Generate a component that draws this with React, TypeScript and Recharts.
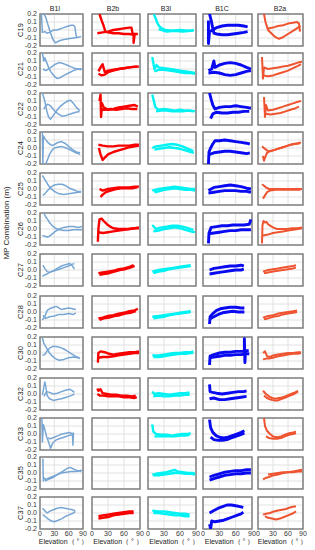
import React from 'react';
import { LineChart, Line, XAxis, YAxis, CartesianGrid, ReferenceArea } from 'recharts';

const rows = ['C19', 'C21', 'C22', 'C24', 'C25', 'C26', 'C27', 'C28', 'C30', 'C32', 'C33', 'C35', 'C37'];
const signals = ['B1I', 'B2b', 'B3I', 'B1C', 'B2a'];
const colors = ['#78a6d4', '#f80000', '#00f2f2', '#0a0af0', '#ef5430'];
const strokeWidths = [1.5, 2.4, 2.4, 2.9, 2.0];
const xTicks = [0, 30, 60, 90];
const yTicks = [-0.2, -0.1, 0, 0.1, 0.2];

// Each cell: two passes, given as flat [elevation(deg), value(cm)] pairs.
const b1i: number[][][] = [
  [[3, 20, 5, -3, 10, -2, 15, -4, 20, -3, 25, -1, 30, 0, 35, 0, 40, 1, 45, 2, 50, 3, 55, 4, 60, 5, 65, 6, 70, 6, 73, 4, 75, -5, 77, -9],
   [8, 20, 12, 16, 16, 8, 20, 0, 24, -7, 28, -13, 32, -16, 36, -15, 42, -13, 50, -12, 60, -11, 70, -10, 80, -9, 86, -8]],
  [[5, 20, 8, 10, 10, 14, 14, 8, 18, 2, 22, -3, 26, -6, 30, -9, 36, -12, 42, -11, 50, -8, 60, -5, 70, -2, 80, 0, 88, 0],
   [6, 0, 12, -2, 18, 0, 25, 3, 32, 6, 40, 8, 48, 7, 56, 5, 64, 3, 72, 1, 80, 0, 86, -1]],
  [[5, 20, 10, 10, 14, -2, 18, -10, 22, -13, 28, -8, 35, -2, 42, 3, 50, 7, 58, 10, 64, 11, 70, 7, 76, 2, 83, -2],
   [8, 0, 12, 4, 16, 6, 22, 4, 30, -2, 38, -6, 46, -9, 55, -8, 65, -6, 75, -4, 83, -3]],
  [[5, 20, 6, -20, 7, 15, 10, 12, 15, 8, 20, 5, 26, 3, 32, 5, 38, 7, 45, 8, 52, 6, 60, 2, 68, -2, 76, -5, 84, -6],
   [12, -20, 16, -14, 20, -8, 25, -3, 30, 0, 36, 1, 45, 2, 55, 0, 65, -3, 75, -6, 84, -8]],
  [[5, 17, 10, 12, 16, 6, 22, 1, 30, -3, 40, -6, 50, -7, 60, -6, 70, -5, 80, -4, 86, -4],
   [6, -8, 10, -6, 16, -2, 22, 2, 30, 5, 38, 6, 46, 6, 54, 4, 62, 1, 70, -1, 78, -3, 86, -3]],
  [[5, -8, 10, -9, 15, -10, 20, -9, 26, -6, 32, -3, 40, 0, 50, 2, 60, 3, 70, 3, 80, 2, 88, 3],
   [8, 20, 12, 15, 16, 12, 20, 8, 26, 4, 32, 1, 40, -1, 50, -2, 60, -2, 70, -1, 80, -1, 88, -1]],
  [[5, -8, 10, -6, 15, -5, 20, -3, 30, -1, 40, 1, 50, 3, 60, 5, 66, 7, 72, 8],
   [6, 6, 10, 2, 15, -2, 20, -3, 28, -1, 36, 2, 45, 5, 55, 7, 62, 8, 68, 5, 72, 1]],
  [[5, -10, 10, -6, 15, 2, 20, 4, 28, 6, 34, 7, 40, 5, 45, 3, 52, 4, 60, 5, 68, 4, 75, 3],
   [6, -4, 12, -8, 20, -6, 30, -5, 40, -3, 50, -3, 60, -2, 70, -3, 75, -1]],
  [[5, 19, 8, 12, 12, 8, 16, 4, 20, 0, 26, -4, 32, -7, 40, -9, 50, -8, 60, -6, 70, -5, 80, -6, 84, -7],
   [5, -3, 10, -2, 15, 3, 20, 6, 26, 8, 34, 8, 42, 7, 50, 5, 58, 2, 66, -1, 74, -4, 82, -6]],
  [[5, -1, 8, 8, 10, 15, 12, 10, 15, -2, 20, -6, 28, -8, 36, -7, 45, -6, 55, -4, 65, -2, 72, 0],
   [8, -3, 14, 3, 20, 2, 28, 0, 36, 1, 45, 3, 55, 5, 62, 6, 68, 4, 72, 2]],
  [[4, 20, 5, -10, 7, 12, 10, 6, 14, -4, 18, -10, 22, -18, 26, -12, 32, -8, 40, -6, 50, -4, 60, -2, 68, -1],
   [16, -5, 22, -6, 30, -4, 38, -2, 46, 0, 54, 1, 62, 2, 68, 0, 69, -14, 70, 2]],
  [[6, 18, 7, -10, 8, -6, 12, -8, 20, -6, 28, -4, 36, -2, 45, 0, 55, 1, 65, 2, 75, 2, 85, 3, 88, 3],
   [10, -10, 18, -8, 26, -6, 34, -3, 42, 0, 50, 3, 58, 6, 64, 7, 70, 5, 78, 3, 86, 2]],
  [[5, 6, 10, 3, 15, 0, 20, 2, 28, 4, 36, 6, 44, 7, 52, 6, 60, 5, 68, 4, 74, 3],
   [6, -2, 12, -5, 18, -8, 24, -10, 30, -11, 38, -9, 46, -7, 54, -4, 62, -2, 70, 0, 74, 2]],
];

const b2b: number[][][] = [
  [[10, -4, 20, -3, 30, -2, 40, 0, 50, 1, 60, 2, 70, 3, 74, 3, 76, -4, 80, -5],
   [14, 20, 18, 12, 22, 5, 25, -2, 30, -3, 40, -4, 50, -4, 60, -5, 70, -5, 78, -6, 78, -16, 80, -5, 86, -5]],
  [[12, -3, 16, 2, 20, 6, 24, -4, 30, -2, 40, -1, 50, 0, 60, 1, 70, 2, 80, 3, 88, 3],
   [12, -6, 18, -8, 24, -7, 30, -4, 40, -2, 50, 0, 60, 1, 70, 2, 85, 3]],
  [[14, 10, 16, 18, 17, -10, 18, 0, 25, -1, 35, 0, 45, -1, 55, 0, 65, 1, 75, 0, 85, 0],
   [18, 8, 22, 2, 30, -1, 40, 0, 50, 2, 60, 3, 70, 4, 80, 5, 86, 3]],
  [[12, 4, 20, 3, 30, 2, 40, 2, 50, 3, 60, 3, 70, 3, 80, 4, 88, 4],
   [13, 0, 16, -8, 20, -15, 24, -12, 30, -8, 40, -5, 50, -3, 60, -1, 70, 1, 80, 2, 88, 3]],
  [[14, 0, 20, -2, 30, 0, 40, 1, 50, 2, 60, 2, 70, 2, 80, 3, 88, 3],
   [16, -10, 20, -7, 26, -4, 35, -2, 45, 0, 55, 1, 65, 1, 75, 1, 85, 2]],
  [[11, -16, 12, 0, 14, 12, 18, 13, 22, 10, 28, 6, 34, 3, 40, 1, 50, 0, 60, 0, 70, 0, 80, 1, 88, 1],
   [12, -4, 20, -5, 30, -4, 40, -3, 50, -2, 60, -1, 70, 0, 80, 1, 88, 2]],
  [[12, -4, 20, -3, 30, -2, 40, -1, 50, 1, 60, 2, 70, 4, 78, 6],
   [14, -6, 22, -5, 32, -4, 42, -2, 52, 0, 62, 1, 72, 3, 80, 5]],
  [[12, -8, 20, -7, 30, -5, 40, -4, 50, -2, 60, -1, 70, 1, 80, 2, 86, 4],
   [14, -10, 22, -8, 32, -7, 42, -5, 52, -4, 62, -2, 72, -1, 82, 1]],
  [[11, -12, 12, 0, 16, 2, 24, 1, 32, -1, 40, -2, 50, -1, 60, 0, 70, 1, 80, 1, 88, 2],
   [12, -6, 20, -5, 30, -5, 40, -4, 50, -3, 60, -2, 70, -1, 80, 0, 88, 0]],
  [[10, 7, 12, 4, 16, 6, 20, 1, 28, 0, 36, -1, 45, -1, 55, -2, 65, -2, 75, -3, 82, -2],
   [10, 0, 15, -2, 22, -2, 30, -3, 40, -3, 50, -3, 60, -4, 70, -4, 80, -5, 84, -4]],
  [],
  [],
  [[12, -4, 20, -3, 30, -2, 40, -1, 50, 0, 60, 1, 70, 2, 78, 2],
   [12, -7, 20, -6, 30, -5, 40, -3, 50, -2, 60, -1, 70, 0, 78, 0]],
];

const b3i: number[][][] = [
  [[11, 20, 14, 15, 18, 8, 22, 4, 26, 2, 32, 0, 45, -1, 60, 0, 75, -1, 85, -1],
   [20, 1, 35, -2, 50, -1, 65, -2, 80, -1, 86, 0]],
  [[8, 15, 12, 0, 16, 5, 20, 2, 30, 1, 40, 0, 50, -1, 60, -2, 70, -3, 80, -4, 88, -5],
   [12, -3, 20, -1, 30, -1, 40, -2, 50, -3, 60, -4, 70, -5, 80, -5, 88, -6]],
  [[8, 18, 11, 10, 14, 2, 20, -1, 30, 0, 40, -1, 50, -2, 60, -1, 70, -2, 80, -2, 88, -3],
   [15, -3, 25, -2, 35, -2, 45, -3, 55, -3, 65, -3, 75, -2, 85, -3]],
  [[8, 0, 15, 2, 25, 3, 35, 4, 45, 5, 55, 4, 65, 2, 75, -1, 85, -4],
   [12, -2, 20, -1, 30, 0, 40, 1, 50, 0, 60, -1, 70, -3, 80, -5, 86, -6]],
  [[8, -2, 20, 0, 30, 1, 40, 2, 50, 3, 60, 2, 70, 1, 80, 0, 88, 0],
   [12, -4, 20, -3, 30, -1, 40, 0, 50, 1, 60, 0, 70, -1, 80, -1, 88, -2]],
  [[8, 5, 15, 0, 25, 2, 35, 3, 45, 4, 55, 4, 65, 3, 75, 1, 85, -1],
   [10, -3, 20, -2, 30, 0, 40, 1, 50, 2, 60, 1, 70, -1, 80, -3, 88, -4]],
  [[8, -2, 20, 0, 30, 1, 40, 2, 50, 3, 60, 4, 70, 5, 80, 6],
   [10, -4, 20, -2, 30, -1, 40, 1, 50, 2, 60, 3, 70, 4, 80, 5]],
  [[8, -6, 20, -5, 30, -4, 40, -3, 50, -2, 60, -1, 70, 0, 80, 1],
   [10, -8, 20, -7, 30, -6, 40, -4, 50, -3, 60, -2, 70, -1, 80, 0]],
  [[8, -3, 20, -3, 30, -2, 40, -1, 50, 0, 60, 0, 70, 1, 80, 1, 85, 2],
   [10, -5, 20, -5, 30, -4, 40, -3, 50, -2, 60, -1, 70, -1, 80, 0, 85, 0]],
  [[8, 3, 12, 0, 20, 1, 30, 0, 40, -1, 50, 0, 60, 1, 70, 1, 78, 2],
   [10, -3, 20, -2, 30, -3, 40, -3, 50, -2, 60, -2, 70, -1, 78, -1]],
  [[8, 12, 10, 3, 15, 0, 25, -1, 35, -1, 45, -2, 55, -1, 65, 0, 75, 0, 80, 1],
   [12, -3, 20, -3, 30, -3, 40, -3, 50, -3, 60, -2, 70, -2, 78, -1]],
  [[8, -2, 15, -1, 25, 0, 35, 1, 45, 3, 50, 4, 55, 2, 65, 1, 75, 0, 85, 0, 88, -1],
   [10, -3, 20, -3, 30, -2, 40, -1, 50, 0, 60, 0, 70, -1, 80, -1, 88, -2]],
  [[8, 3, 20, 2, 30, 2, 40, 1, 50, 0, 60, -1, 70, -1, 78, -2],
   [10, 0, 20, 0, 30, -1, 40, -2, 50, -3, 60, -3, 70, -4, 78, -4]],
];

const b1c: number[][][] = [
  [[10, 12, 10, -17, 12, -2, 18, 0, 25, 3, 35, 5, 45, 6, 55, 6, 65, 6, 75, 5, 82, 4],
   [12, 20, 15, 12, 18, 2, 20, -4, 25, -5, 35, -6, 45, -6, 55, -5, 65, -4, 75, -3, 82, -2]],
  [[10, -2, 16, 0, 20, 10, 22, 2, 30, 5, 40, 7, 50, 8, 60, 7, 70, 5, 80, 2, 88, 0],
   [10, -5, 20, -4, 30, -5, 40, -7, 50, -8, 60, -7, 70, -5, 80, -3, 88, -2]],
  [[12, 20, 15, 12, 18, 5, 22, 0, 30, 2, 40, 3, 50, 3, 60, 4, 70, 3, 80, 2, 88, 1],
   [14, -12, 18, -6, 25, -4, 35, -5, 45, -5, 55, -4, 65, -4, 75, -3, 85, -3]],
  [[10, -20, 11, -5, 14, 0, 18, 5, 22, 9, 30, 9, 40, 10, 50, 9, 60, 8, 70, 7, 80, 6, 86, 5],
   [12, -8, 20, -6, 30, -5, 40, -4, 50, -4, 60, -5, 70, -6, 80, -7, 86, -6]],
  [[10, -2, 20, 2, 30, 3, 40, 4, 50, 5, 60, 4, 70, 3, 80, 1, 88, 0],
   [10, -5, 20, -4, 30, -3, 40, -2, 50, -2, 60, -2, 70, -3, 80, -3, 88, -4]],
  [[10, -18, 11, -5, 15, 2, 25, 3, 35, 4, 45, 4, 55, 5, 65, 5, 75, 5, 85, 6, 88, 12],
   [10, -6, 20, -5, 30, -4, 40, -3, 50, -2, 60, -2, 70, -1, 80, -1, 88, -1]],
  [[12, 0, 20, 2, 30, 3, 40, 4, 50, 5, 60, 5, 70, 6, 75, 5],
   [12, -5, 20, -4, 30, -3, 40, -2, 50, -1, 60, 0, 70, 0, 75, 1]],
  [[12, -15, 13, -6, 18, -2, 25, 2, 32, 4, 40, 5, 50, 6, 60, 6, 70, 5, 76, 5],
   [14, -8, 20, -6, 28, -3, 36, -1, 45, 0, 55, 1, 65, 0, 76, 0]],
  [[12, -15, 13, -4, 20, -2, 30, 0, 40, 1, 50, 1, 60, 2, 70, 2, 76, 3, 76, 18, 77, -12, 78, 3, 84, 3],
   [12, -6, 20, -5, 30, -4, 40, -3, 50, -3, 60, -2, 70, -2, 80, -1, 85, -1]],
  [[12, 12, 13, 3, 18, 2, 25, 1, 35, 0, 45, 1, 55, 2, 65, 3, 75, 3, 80, 4],
   [12, -6, 20, -5, 30, -7, 40, -7, 50, -6, 60, -5, 70, -4, 80, -3]],
  [[12, 18, 14, 8, 18, 2, 24, -2, 30, -4, 38, -5, 46, -4, 54, -2, 62, 0, 70, 2, 76, 4],
   [14, -4, 20, -7, 28, -8, 36, -8, 44, -7, 52, -5, 60, -3, 68, -1, 76, 1]],
  [[12, -5, 20, -3, 30, -1, 40, 1, 50, 2, 60, 3, 70, 3, 80, 4, 88, 4],
   [12, -9, 20, -7, 30, -5, 40, -3, 50, -2, 60, -1, 70, -1, 80, 0, 88, 0]],
  [[12, 0, 20, 3, 28, 6, 36, 8, 44, 10, 52, 10, 60, 9, 68, 8, 74, 7],
   [12, -14, 14, -20, 16, -10, 22, -11, 30, -10, 38, -9, 46, -7, 54, -5, 62, -3, 70, -1, 74, 1]],
];

const b2a: number[][][] = [
  [[12, 20, 15, 10, 20, 0, 28, -5, 35, -9, 42, -11, 50, -9, 60, -5, 70, -1, 80, 3, 85, 5],
   [20, 2, 30, 3, 40, 5, 50, 6, 60, 8, 70, 9, 78, 10, 82, 8, 84, -2]],
  [[8, 15, 10, -12, 12, 2, 20, 0, 30, 1, 40, 2, 50, 3, 60, 4, 70, 6, 80, 8, 88, 9],
   [12, -8, 20, -9, 30, -8, 40, -6, 50, -4, 60, -2, 70, 1, 80, 4, 86, 6]],
  [[12, 15, 14, -10, 16, 5, 20, -2, 30, -1, 40, 1, 50, 3, 60, 5, 70, 7, 80, 9, 86, 10],
   [15, -6, 25, -7, 35, -6, 45, -5, 55, -3, 65, -1, 75, 1, 82, 3]],
  [[8, 2, 12, 0, 16, -2, 20, -4, 30, -3, 40, -1, 50, 1, 60, 3, 70, 5, 80, 6, 86, 7],
   [10, -10, 12, -16, 14, -12, 18, -6, 24, -4, 35, -2, 45, 0, 55, 2, 65, 4, 75, 5, 84, 6]],
  [[8, 6, 12, 4, 16, 2, 22, 0, 30, 0, 40, 0, 50, 0, 60, 0, 70, 0, 80, 0, 88, 0],
   [10, -12, 14, -8, 18, -4, 24, -2, 35, -1, 45, -1, 55, -1, 65, -1, 75, -1, 85, -1]],
  [[8, -18, 9, 5, 11, 10, 14, 8, 17, 9, 20, 6, 25, 4, 30, 2, 38, 0, 48, 0, 58, 0, 68, 1, 78, 1, 88, 2],
   [10, -8, 20, -7, 30, -5, 40, -4, 50, -3, 60, -2, 70, -1, 80, 0, 88, 1]],
  [[10, -2, 20, 0, 30, 1, 40, 2, 50, 3, 60, 4, 70, 5, 76, 6],
   [12, -4, 20, -3, 30, -2, 40, -1, 50, 0, 60, 1, 70, 2, 76, 3]],
  [[10, -7, 20, -5, 30, -4, 40, -2, 50, -1, 60, 0, 70, 1, 78, 2],
   [12, -9, 20, -8, 30, -6, 40, -5, 50, -3, 60, -2, 70, -1, 78, 0]],
  [[10, 0, 14, 2, 18, -4, 24, -5, 30, -3, 40, -2, 50, -1, 60, 0, 70, 0, 80, 1, 86, 1],
   [10, -8, 16, -7, 22, -7, 30, -6, 40, -4, 50, -3, 60, -2, 70, -1, 80, -1, 86, 0]],
  [[10, 4, 16, 0, 22, -3, 28, -5, 35, -6, 42, -5, 50, -4, 58, -2, 66, 0, 74, 2, 80, 4],
   [12, -2, 18, -5, 25, -7, 32, -8, 40, -8, 48, -6, 56, -4, 64, -2, 72, 0, 80, 3]],
  [[12, 20, 14, 10, 18, 4, 24, 0, 30, -3, 38, -4, 46, -3, 54, -1, 62, 1, 70, 2, 76, 3],
   [16, -3, 22, -5, 30, -6, 38, -6, 46, -5, 54, -3, 62, -1, 70, 0, 76, 1]],
  [[10, -8, 16, -6, 22, -5, 30, -3, 40, -2, 50, 0, 60, 1, 70, 2, 80, 3, 88, 4],
   [20, -2, 30, -1, 40, 0, 50, 1, 60, 1, 70, 1, 80, 2, 88, 2]],
  [[10, -2, 16, -1, 24, 0, 32, 2, 40, 3, 48, 4, 56, 5, 64, 7, 72, 8, 76, 8],
   [14, -4, 20, -6, 28, -7, 36, -8, 44, -7, 52, -5, 60, -3, 68, -1, 76, 2]],
];

const columns = [b1i, b2b, b3i, b1c, b2a];

// layout
const colLeft = [40, 92, 148, 203, 258];
const colWidth = [43, 48, 48, 49, 45];
const rowTop = [14, 53, 93, 132, 173, 213, 254, 296, 337, 378, 418, 457, 497];
const CELL_H = 32;
const titleX = [55, 113, 166, 222, 280];
const FONT = '"Liberation Sans", Arial, sans-serif';

const toPoints = (flat: number[]) => {
  const pts: { e: number; v: number }[] = [];
  for (let i = 0; i < flat.length; i += 2) pts.push({ e: flat[i], v: flat[i + 1] / 100 });
  return pts;
};

function Cell({ r, c }: { r: number; c: number }) {
  const showY = c === 0;
  const showX = r === rows.length - 1;
  const yw = showY ? 22 : 0;
  const xh = showX ? 12 : 0;
  const m = 5;
  const w = yw + colWidth[c] + 2 * m;
  const h = CELL_H + xh + 2 * m;
  const arcs = columns[c][r];
  return (
    <div style={{ position: 'absolute', left: colLeft[c] - yw - m, top: rowTop[r] - m }}>
      <LineChart width={w} height={h} margin={{ top: m, right: m, bottom: m, left: m }}>
        <CartesianGrid stroke="#dadada" strokeWidth={0.8} />
        <XAxis
          type="number"
          dataKey="e"
          domain={[0, 90]}
          ticks={xTicks}
          interval={0}
          hide={!showX}
          height={xh}
          tickSize={0}
          tickMargin={2}
          axisLine={false}
          tick={{ fontSize: 7, fill: '#333333', fontFamily: FONT }}
          allowDataOverflow
        />
        <YAxis
          type="number"
          domain={[-0.2, 0.2]}
          ticks={yTicks}
          interval={0}
          hide={!showY}
          width={yw}
          tickSize={0}
          tickMargin={3}
          axisLine={false}
          tickFormatter={(v: number) => v.toFixed(1)}
          tick={{ fontSize: 7, fill: '#333333', fontFamily: FONT }}
          allowDataOverflow
        />
        {arcs.map((flat, i) => (
          <Line
            key={i}
            data={toPoints(flat)}
            dataKey="v"
            type="linear"
            dot={false}
            activeDot={false}
            stroke={colors[c]}
            strokeWidth={strokeWidths[c]}
            strokeLinejoin="round"
            isAnimationActive={false}
          />
        ))}
        <ReferenceArea x1={0} x2={90} y1={-0.2} y2={0.2} fill="none" fillOpacity={0} stroke="#808080" strokeWidth={1.5} />
      </LineChart>
    </div>
  );
}

export default function App() {
  return (
    <div style={{ position: 'absolute', left: 0, top: 0, width: 315, height: 550, background: '#fff', fontFamily: FONT, color: '#222' }}>
      {signals.map((s, c) => (
        <div key={s} style={{ position: 'absolute', left: titleX[c], top: 8, transform: 'translate(-50%,-50%)', fontSize: 7, lineHeight: 1, whiteSpace: 'nowrap' }}>
          {s}
        </div>
      ))}
      {rows.map((rl, r) => (
        <div key={rl} style={{ position: 'absolute', left: 21, top: rowTop[r] + CELL_H / 2, transform: 'translate(-50%,-50%) rotate(-90deg)', fontSize: 7.5, lineHeight: 1, whiteSpace: 'nowrap' }}>
          {rl}
        </div>
      ))}
      <div style={{ position: 'absolute', left: 7, top: 223, transform: 'translate(-50%,-50%) rotate(-90deg)', fontSize: 8, lineHeight: 1, whiteSpace: 'nowrap' }}>
        MP Combination (m)
      </div>
      {rows.map((_, r) => signals.map((_s, c) => <Cell key={r + '-' + c} r={r} c={c} />))}
      {signals.map((s, c) => (
        <div key={'el' + s} style={{ position: 'absolute', left: colLeft[c] + colWidth[c] / 2 + 2, top: 541, transform: 'translate(-50%,-50%)', fontSize: 7, lineHeight: 1, whiteSpace: 'nowrap', color: '#222' }}>
          Elevation（ ° ）
        </div>
      ))}
    </div>
  );
}
